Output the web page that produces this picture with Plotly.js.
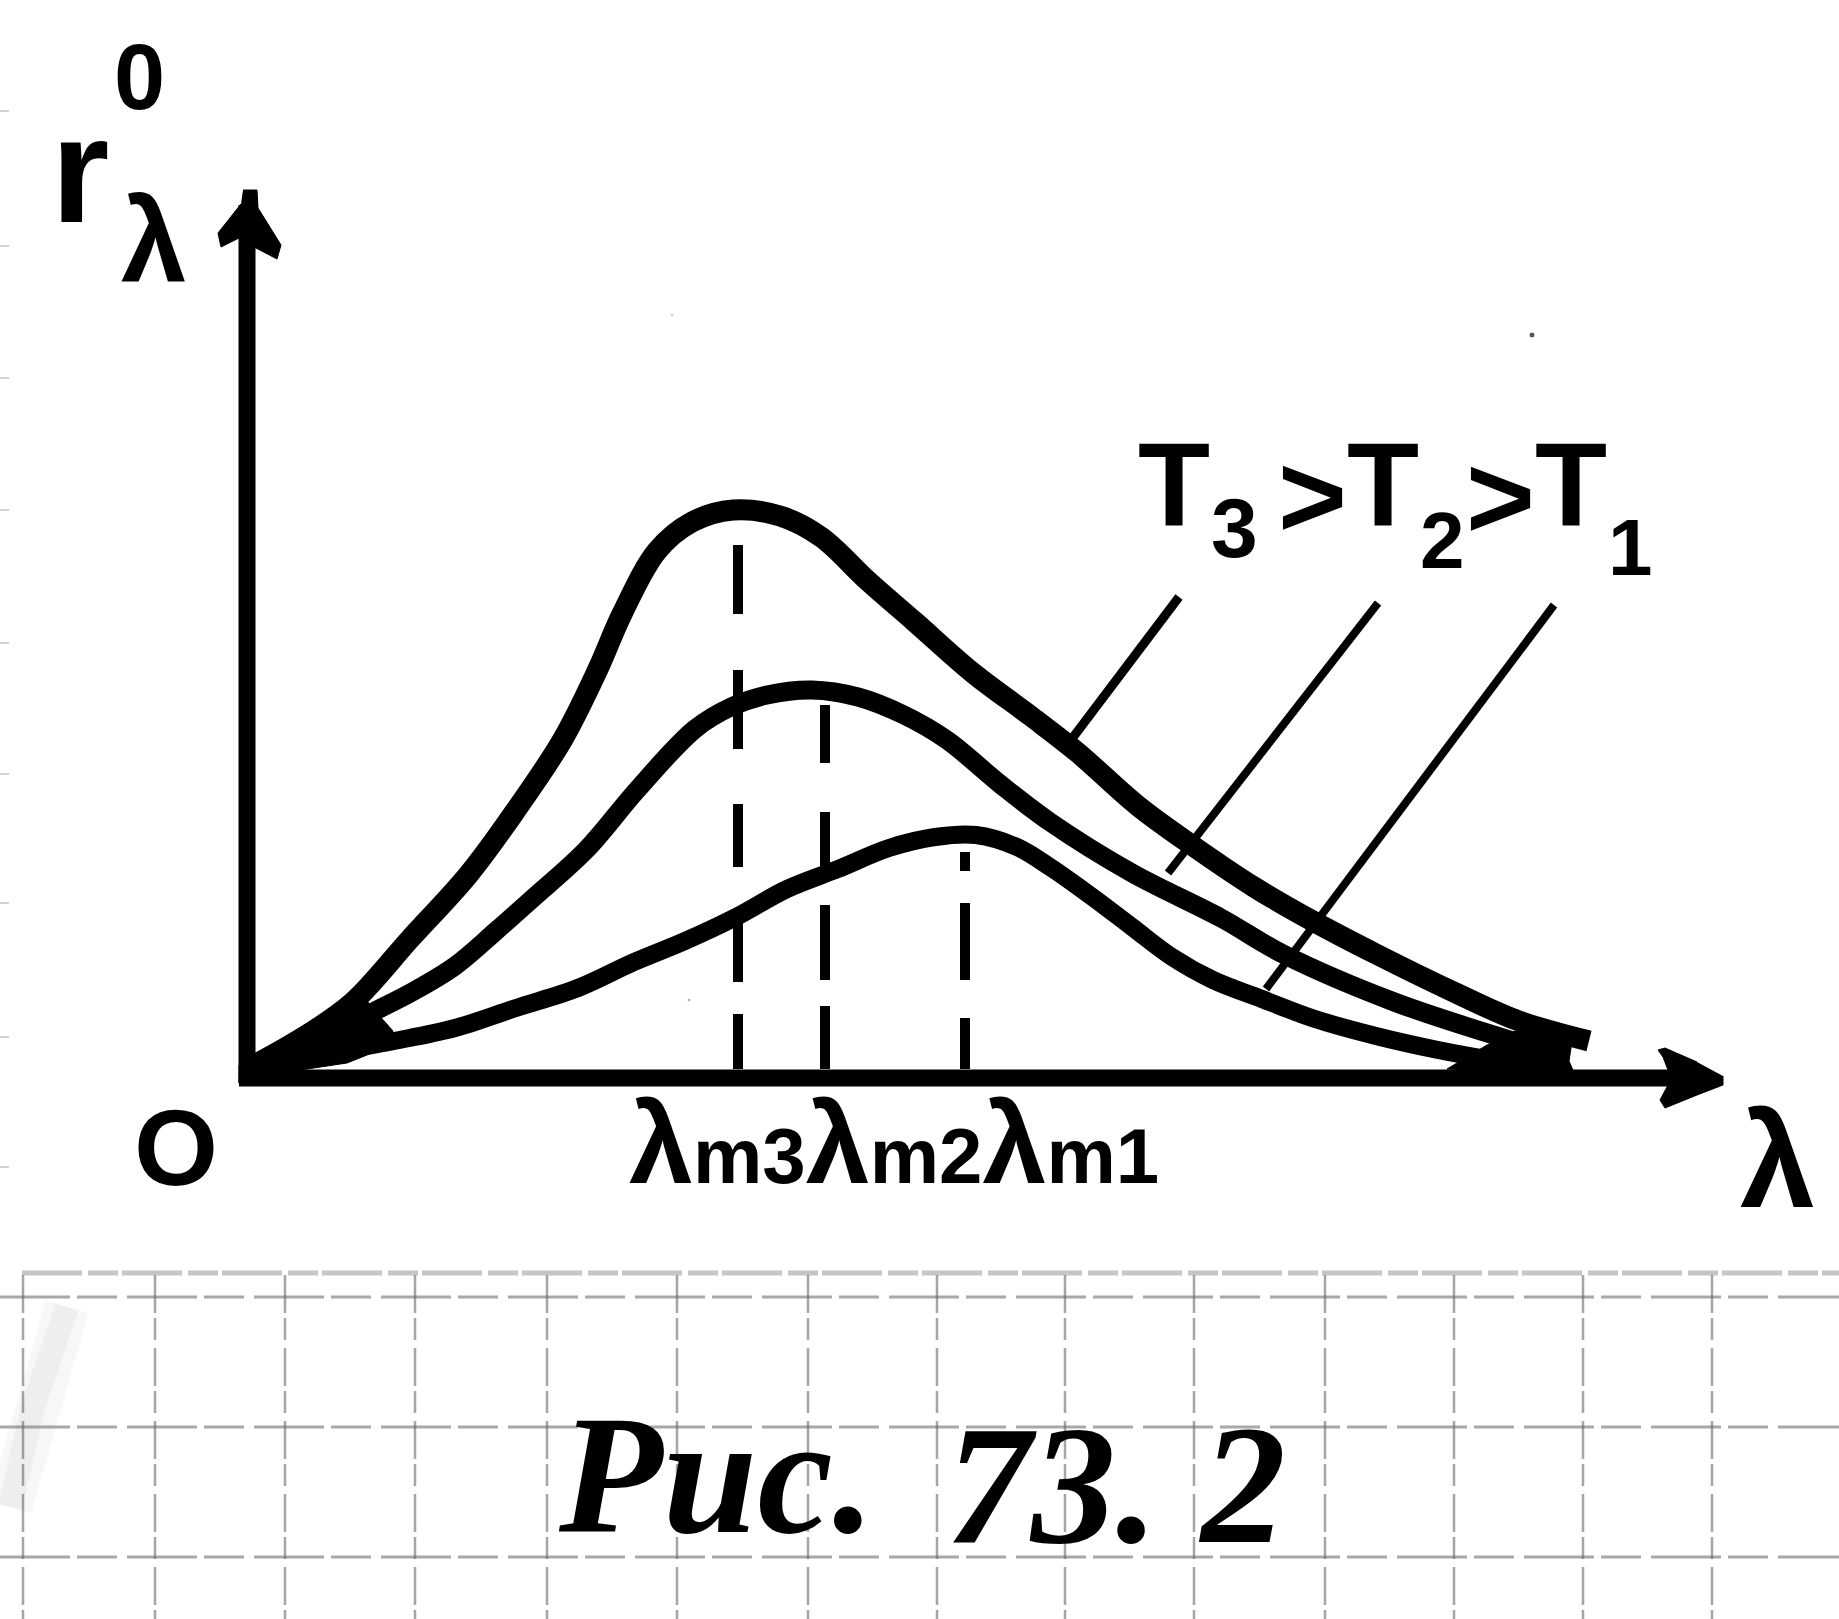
<!DOCTYPE html>
<html><head><meta charset="utf-8">
<script src="https://cdn.plot.ly/plotly-3.0.1.min.js"></script>
<style>html,body{margin:0;padding:0;background:#fff}#c{width:1839px;height:1619px}</style>
</head><body><div id="c"></div>
<script>
// wavelength / emissivity, in picture units from the origin
const t3X=[0,55,105,163,222,269,316,351,375,410,445,486,533,574,621,668,726,785,830,891,946,1007,1064,1129,1211,1272,1342];
const t3Y=[6,37,72,136,201,265,336,406,461,524,553,565,559,538,494,453,402,358,323,269,229,188,155,121,81,54,34];
const t2X=[0,60,120,167,208,249,285,340,390,448,484,520,565,611,657,700,753,803,885,974,1036,1150,1272,1313];
const t2Y=[6,30,60,84,109,144,176,226,285,346,368,380,385,378,360,335,291,253,202,157,121,72,32,19];
const t1X=[0,70,147,208,269,331,387,438,489,540,591,642,688,729,770,803,844,885,925,966,1015,1068,1129,1191,1252,1293];
const t1Y=[6,20,34,47,67,87,113,134,158,186,206,227,238,240,228,208,179,148,118,95,76,56,39,25,14,8];
const dropX=[491,578,718];
const dropSegments=[[[530,461],[405,326],[271,208],[152,93],[61,6]],[[370,312],[263,200],[170,95],[69,6]],[[223,204],[172,95],[57,6]]];
const leaderX=[[932,821],[1131,921],[1307,1019]];
const leaderY=[[478,331],[472,202],[470,86]];
const axisEnds={x:1430,y:870};
const yHeadX=[-4,10,11,34,30,7,-6,-26,-29,-6];
const yHeadY=[885,885,867,830,816,828,838,828,842,871];
const xHeadX=[1476,1476,1450,1418,1413,1421,1421,1416,1411,1418,1450];
const xHeadY=[-1,-10,-20,-33,-25,-10,5,18,25,27,13];
const blobStartX=[-8,-8,60,120,130,146,140,100,60,-8];
const blobStartY=[-8,10,46,74,62,44,28,12,6,-8];
const blobEndX=[1200,1240,1280,1326,1322,1328,1200];
const blobEndY=[6,30,50,40,14,0,6];
// paper grid
const gridV=[23,155,285,415,547,677,808,937,1065,1194,1325,1454,1583,1712].map(v=>v-247);
const gridH=[-222,-352,-482];
const edgeMarks=[964,829,697,565,432,301,172,38,-92];
const specksX=[1285,425,442];const specksY=[740,760,75];
const smudgeX=[-180,-214,-237];const smudgeY=[-232,-332,-432];
// labels
const labels=[
 {t:'0',x:-108,y:998,s:92},{t:'r',x:-167,y:905,s:150},{t:'λ',x:-93,y:835,s:118},
 {t:'O',x:-71,y:-72,s:108},{t:'λ',x:1530,y:-85,s:135},
 {t:'T',x:927,y:590,s:118},{t:'3',x:987,y:547,s:84},{t:'&gt;',x:1065,y:579,s:118},
 {t:'T',x:1136,y:590,s:118},{t:'2',x:1195,y:535,s:80},{t:'&gt;',x:1253,y:578,s:118},
 {t:'T',x:1324,y:590,s:118},{t:'1',x:1383,y:528,s:80},
 {t:'λ<span style="font-size:78px">m3</span>λ<span style="font-size:78px">m2</span>λ<span style="font-size:78px">m1</span>',x:647,y:-68,s:115}
];
const caption=[
 {t:'Рис.',x:469,y:-400,s:170},{t:'73. 2',x:869,y:-410,s:170}
];

const traces=[];
const line=(x,y,w,c,extra)=>traces.push(Object.assign({x,y,mode:'lines',type:'scatter',hoverinfo:'skip',showlegend:false,line:Object.assign({width:w,color:c},extra||{})}));
const fill=(x,y)=>traces.push({x,y,mode:'lines',type:'scatter',fill:'toself',fillcolor:'#000',line:{width:1,color:'#000'},hoverinfo:'skip',showlegend:false});

// paper
line(smudgeX,smudgeY,44,'rgba(190,190,190,0.13)');
line(smudgeX,smudgeY,24,'rgba(190,190,190,0.15)');
line([-225,1592],[-198,-198],5,'rgba(150,150,150,0.55)',{dash:'60px,6px,30px,4px'});
gridH.forEach(h=>line([-247,1592],[h,h],3,'rgba(110,110,110,0.6)',{dash:'70px,7px,40px,10px'}));
gridV.forEach(v=>line([v,v],[-200,-544],2.5,'rgba(100,100,100,0.58)',{dash:'38px,5px,22px,8px'}));
edgeMarks.forEach(m=>line([-247,-238],[m,m],1.5,'rgba(170,170,170,0.7)'));
traces.push({x:specksX,y:specksY,mode:'markers',type:'scatter',marker:{size:[6,3,3],color:['#111','#999','#666']},hoverinfo:'skip',showlegend:false});

// axes
line([0,0],[-8,axisEnds.y],17,'#000');
line([-8,axisEnds.x],[-3,-3],17,'#000');
fill(yHeadX,yHeadY);fill(xHeadX,xHeadY);
fill(blobStartX,blobStartY);fill(blobEndX,blobEndY);

// drop lines
dropX.forEach((dx,i)=>dropSegments[i].forEach(s=>line([dx,dx],s,10,'#000',{})));
// leaders
leaderX.forEach((lx,i)=>line(lx,leaderY[i],i==0?9:8,'#000'));
// curves
const sp={shape:'spline',smoothing:1};
line(t3X,t3Y,21,'#000',sp);
line(t2X,t2Y,19,'#000',sp);
line(t1X,t1Y,18,'#000',sp);

const anno=l=>({x:l.x,y:l.y,text:l.t,showarrow:false,xanchor:'center',yanchor:'middle',font:{size:l.s,color:'#000',family:'"Liberation Sans",sans-serif',weight:700}});
const annos=labels.map(anno).concat(caption.map(l=>{const a=anno(l);a.font.family='"Liberation Serif",serif';a.font.style='italic';return a;}));

Plotly.newPlot('c',traces,{
 width:1839,height:1619,margin:{l:0,r:0,t:0,b:0},paper_bgcolor:'#fff',plot_bgcolor:'#fff',showlegend:false,
 xaxis:{range:[-247,1592],visible:false,fixedrange:true},
 yaxis:{range:[-544,1075],visible:false,fixedrange:true},
 annotations:annos
},{staticPlot:true,displayModeBar:false});
</script></body></html>
